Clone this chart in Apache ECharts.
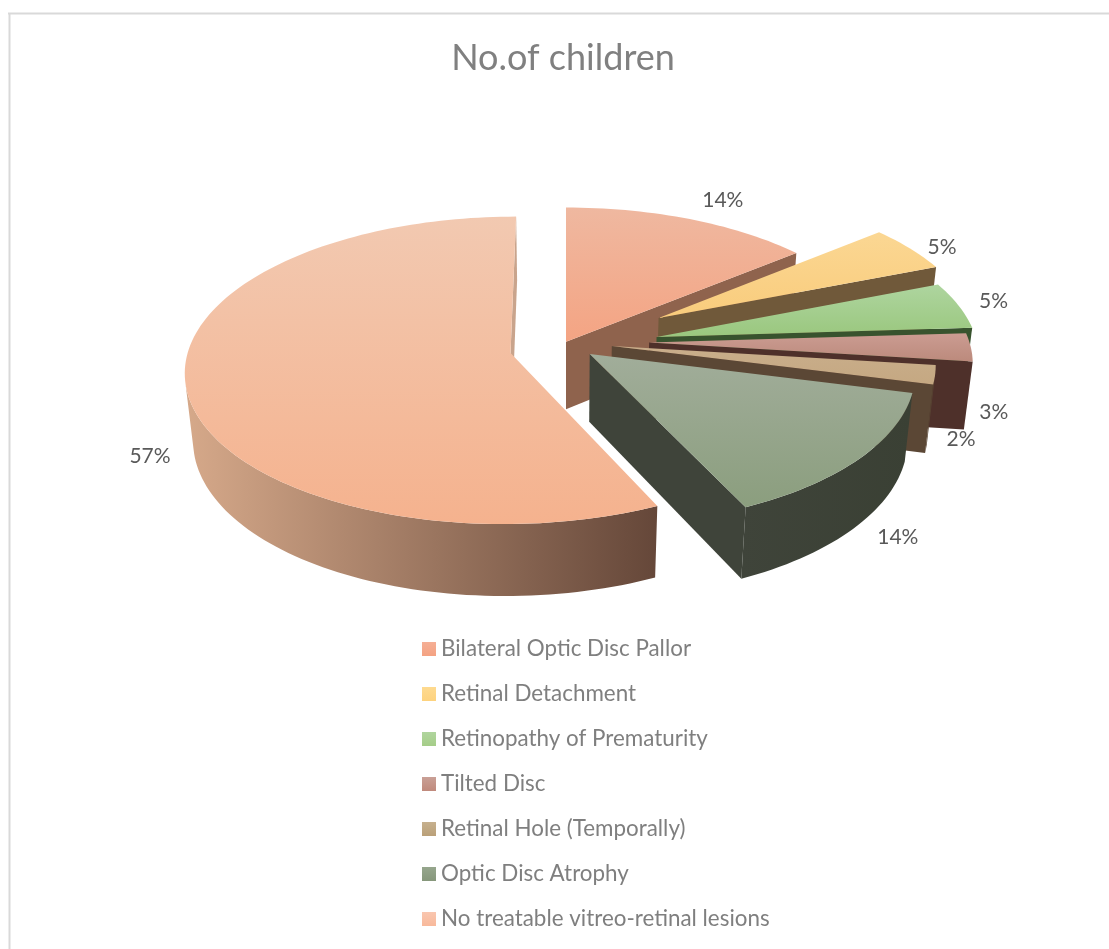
<!DOCTYPE html>
<html>
<head>
<meta charset="utf-8">
<title>No.of children</title>
<script src="https://cdn.jsdelivr.net/npm/echarts@6/dist/echarts.min.js"></script>
<style>
  html, body { margin: 0; padding: 0; background: #fff; }
  #chart { width: 1109px; height: 949px; }
</style>
</head>
<body>
<div id="chart"></div>
<script>
// Share of children per finding, in pie order (clockwise from twelve o'clock).
const categories = [
  'Bilateral Optic Disc Pallor',
  'Retinal Detachment',
  'Retinopathy of Prematurity',
  'Tilted Disc',
  'Retinal Hole (Temporally)',
  'Optic Disc Atrophy',
  'No treatable vitreo-retinal lesions'
];
const values = [14, 5, 5, 3, 2, 14, 57];

// Per-slice explosion, in pie radii, sideways and towards the viewer.
const explodeX = [0, 0.2944, 0.2839, 0.2595, 0.1426, 0.0734, -0.1718];
const explodeZ = [-0.0214, -0.1837, -0.0536, -0.0167, 0.0066, 0.0597, 0.0531];

// Label offset from the middle of each slice's rim, in pixels.
const labelNudgeX = [33, 32, 35, 23, 26, 38, -36];
const labelNudgeY = [-19, -1, -4, 65, 64, 79, 69];

// Surface colours: top face gradient, side wall gradient, cut faces, legend swatch.
const topFrom = ['#EFB8A0', '#FBD793', '#AED59F', '#CB9C92', '#C9AE8B', '#A1AD9A', '#F2C9B1'];
const topTo = ['#F4A483', '#F9CC7C', '#9AC77E', '#BC8A7C', '#C5A882', '#8B9E7E', '#F5B28E'];
const wallFrom = ['#8F634D', '#70593A', '#38532E', '#4E302A', '#5B4735', '#3F443A', '#D6A98A'];
const wallTo = ['#8A5F49', '#6A5433', '#334D2A', '#482C26', '#564230', '#3A4034', '#654739'];
const cutFace = ['#8F634D', '#70593A', '#38532E', '#4E302A', '#5B4735', '#3F443A', '#C9A48C'];
const swatchFrom = ['#F5AF95', '#FEDA90', '#B0D59E', '#C9A096', '#C6B08E', '#96A68D', '#F9C6AF'];
const swatchTo = ['#F4A282', '#FDD27E', '#A5CD88', '#C08A7C', '#BAA078', '#86977B', '#F8B99B'];

// Perspective camera for the tilted disc.
const VIEW = {
  cx: 566, cy: 345,       // screen position of the pie axis
  rx: 321, ry: 150,       // disc radii before foreshortening
  near: 0.112,            // how fast depth scales things
  depth: 69,              // thickness of the pie
  drop: 0.022             // extra shrink for the underside
};

const total = values.reduce((a, b) => a + b, 0);
const TEXT = '#595959';
const LEGEND_TEXT = '#7f7f7f';
const FONT = 'Lato, "Open Sans", sans-serif';

function project(x, z, lower) {
  const w = 1 - VIEW.near * z + (lower ? VIEW.drop : 0);
  return [
    VIEW.cx + VIEW.rx * x / w,
    VIEW.cy + (VIEW.ry * z + (lower ? VIEW.depth : 0)) / w
  ];
}

function rimPoint(i, deg, lower) {
  const a = deg * Math.PI / 180;
  return project(explodeX[i] + Math.sin(a), explodeZ[i] - Math.cos(a), lower);
}

function sweep(a0, a1) {
  const steps = Math.max(4, Math.ceil(Math.abs(a1 - a0) / 1.5));
  const list = [];
  for (let k = 0; k <= steps; k++) list.push(a0 + (a1 - a0) * k / steps);
  return list;
}

// Shoelace area on screen; its sign says which way a wall faces.
function signedArea(pts) {
  let s = 0;
  pts.forEach((p, k) => {
    const q = pts[(k + 1) % pts.length];
    s += p[0] * q[1] - q[0] * p[1];
  });
  return s;
}

function vertical(from, to) {
  return { type: 'linear', x: 0, y: 0, x2: 0, y2: 1, colorStops: [{ offset: 0, color: from }, { offset: 1, color: to }] };
}
function horizontal(from, to) {
  return { type: 'linear', x: 0, y: 0, x2: 1, y2: 0, colorStops: [{ offset: 0, color: from }, { offset: 1, color: to }] };
}

function polygon(points, fill) {
  return { type: 'polygon', shape: { points: points }, style: { fill: fill, stroke: null } };
}

function sliceRenderer(i) {
  const start = values.slice(0, i).reduce((a, b) => a + b, 0) / total * 360;
  return function (params, api) {
    const end = start + api.value(0) / total * 360;
    const apexTop = project(explodeX[i], explodeZ[i], false);
    const apexLow = project(explodeX[i], explodeZ[i], true);
    const angles = sweep(start, end);
    const arcTop = angles.map(a => rimPoint(i, a, false));
    const arcLow = angles.map(a => rimPoint(i, a, true));
    const last = angles.length - 1;
    const children = [];

    // Cut faces at both ends of the slice, only where they face the viewer.
    const startFace = [apexTop, arcTop[0], arcLow[0], apexLow];
    const endFace = [apexTop, arcTop[last], arcLow[last], apexLow];
    if (signedArea(startFace) < 0) children.push(polygon(startFace, cutFace[i]));
    if (signedArea(endFace) > 0) children.push(polygon(endFace, cutFace[i]));

    // Outer wall: keep only the stretch of rim turned towards the viewer.
    const rimTop = [];
    const rimLow = [];
    for (let k = 0; k < last; k++) {
      if (signedArea([arcTop[k], arcTop[k + 1], arcLow[k + 1], arcLow[k]]) < 0) {
        if (!rimTop.length) { rimTop.push(arcTop[k]); rimLow.push(arcLow[k]); }
        rimTop.push(arcTop[k + 1]);
        rimLow.push(arcLow[k + 1]);
      }
    }
    if (rimTop.length) {
      children.push(polygon(rimTop.concat(rimLow.reverse()), horizontal(wallFrom[i], wallTo[i])));
    }

    children.push(polygon([apexTop].concat(arcTop), vertical(topFrom[i], topTo[i])));

    const mid = rimPoint(i, (start + end) / 2, false);
    children.push({
      type: 'text',
      style: {
        x: mid[0] + labelNudgeX[i],
        y: mid[1] + labelNudgeY[i],
        text: Math.round(api.value(0) / total * 100) + '%',
        fill: TEXT,
        font: '21px ' + FONT,
        align: 'center',
        verticalAlign: 'middle'
      }
    });
    return { type: 'group', children: children };
  };
}

const chart = echarts.init(document.getElementById('chart'), null, { renderer: 'canvas' });
chart.setOption({
  animation: false,
  backgroundColor: '#ffffff',
  title: {
    text: 'No.of children',
    left: 558,
    top: 35,
    textAlign: 'center',
    textStyle: { color: '#808080', fontFamily: FONT, fontWeight: 400, fontSize: 36 }
  },
  legend: {
    orient: 'vertical',
    left: 417,
    top: 632,
    icon: 'rect',
    itemWidth: 14,
    itemHeight: 14,
    itemGap: 21,
    data: categories,
    selectedMode: false,
    textStyle: { color: LEGEND_TEXT, fontFamily: FONT, fontSize: 22.4, lineHeight: 24 }
  },
  graphic: [
    { type: 'line', shape: { x1: 8, y1: 13.5, x2: 1109, y2: 13.5 }, style: { stroke: '#d9d9d9', lineWidth: 2 } },
    { type: 'line', shape: { x1: 9.5, y1: 13, x2: 9.5, y2: 949 }, style: { stroke: '#d9d9d9', lineWidth: 2 } }
  ],
  series: categories.map((name, i) => ({
    type: 'custom',
    name: name,
    coordinateSystem: 'none',
    silent: true,
    itemStyle: { color: vertical(swatchFrom[i], swatchTo[i]) },
    renderItem: sliceRenderer(i),
    data: [[values[i]]]
  }))
});
</script>
</body>
</html>
